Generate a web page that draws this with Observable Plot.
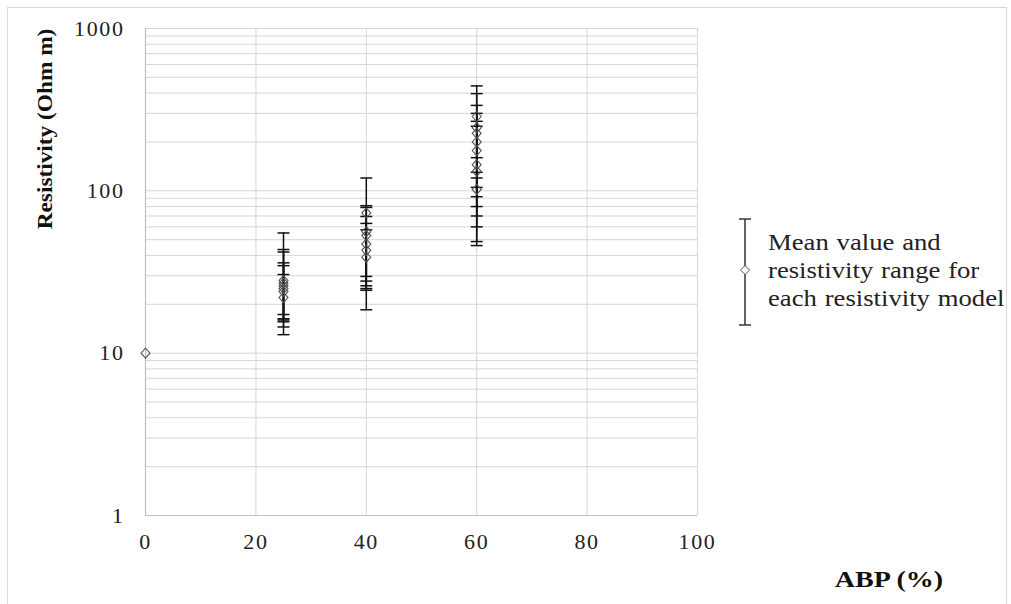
<!DOCTYPE html>
<html>
<head>
<meta charset="utf-8">
<script src="https://cdn.jsdelivr.net/npm/d3@7"></script>
<script src="https://cdn.jsdelivr.net/npm/@observablehq/plot@0.6"></script>
<style>
  html, body { margin: 0; padding: 0; background: #fff; }
  #wrap { position: relative; width: 1011px; height: 604px; overflow: hidden; font-family: "Liberation Serif", "Times New Roman", serif; }
  #border { position: absolute; left: 7px; top: 7px; width: 1000px; height: 610px; border: 1px solid #d9d9d9; box-sizing: border-box; }
  #ytitle { position: absolute; left: 45px; top: 129px; transform: translate(-50%, -50%) rotate(-90deg) scaleX(1.11); font-weight: bold; font-size: 21px; white-space: nowrap; color: #111; }
  #xtitle { position: absolute; left: 889px; top: 580px; transform: translate(-50%, -50%) scaleX(1.22); font-weight: bold; font-size: 23px; white-space: nowrap; color: #111; }
  #legtext { position: absolute; left: 768px; top: 229px; font-size: 23px; line-height: 28px; color: #222; white-space: nowrap; transform: scaleX(1.16); transform-origin: left top; word-spacing: 1px; }
  #legsym { position: absolute; left: 735px; top: 215px; }
  svg text { letter-spacing: 1.6px; }
</style>
</head>
<body>
<div id="wrap">
  <div id="border"></div>
  <div id="chart"></div>
  <div id="ytitle">Resistivity (Ohm m)</div>
  <div id="xtitle">ABP (%)</div>
  <svg id="legsym" width="24" height="115">
    <line x1="10" y1="4" x2="10" y2="110" stroke="#333" stroke-width="1.5"/>
    <line x1="4" y1="4" x2="16" y2="4" stroke="#333" stroke-width="1.5"/>
    <line x1="4" y1="110" x2="16" y2="110" stroke="#333" stroke-width="1.5"/>
    <path d="M10,50.5 L14.5,55 L10,59.5 L5.5,55 Z" fill="#fff" stroke="#555" stroke-width="1"/>
  </svg>
  <div id="legtext">Mean value and<br>resistivity range for<br>each resistivity model</div>
</div>
<script>
// ABP (%) of each resistivity model
const abp = [0,
  25, 25, 25, 25, 25, 25,
  40, 40, 40, 40, 40, 40,
  60, 60, 60, 60, 60, 60, 60, 60];
// mean resistivity (Ohm m)
const meanRes = [10,
  26, 25, 28, 24, 22, 27,
  56, 47, 73, 43, 53, 39,
  287, 245, 226, 200, 177, 145, 132, 102];
// lower end of resistivity range
const lowRes = [null,
  13, 15.6, 16.3, 17.3, 14.5, 16,
  18.5, 24.4, 26, 27.8, 29.7, 25,
  92, 80, 48.7, 46, 120, 70, 105, 60];
// upper end of resistivity range
const highRes = [null,
  55, 43.5, 42, 36, 34.6, 30.5,
  120, 81, 79, 69.5, 63, 57.5,
  336, 443, 397, 300, 268, 250, 160, 130];

const xTicks = [0, 20, 40, 60, 80, 100];
const yTicks = [1, 10, 100, 1000];
const yGrid = [];
for (const dec of [1, 10, 100]) for (let k = 1; k <= 9; k++) yGrid.push(k * dec);
yGrid.push(1000);

const data = abp.map((a, i) => ({abp: a, mean: meanRes[i], low: lowRes[i], high: highRes[i]}));
const ranged = data.filter(d => d.low != null);

const capSymbol = {
  draw(context, size) {
    context.moveTo(-6, 0);
    context.lineTo(6, 0);
  }
};
const diamondSymbol = {
  draw(context, size) {
    context.moveTo(0, -5);
    context.lineTo(4.5, 0);
    context.lineTo(0, 5);
    context.lineTo(-4.5, 0);
    context.closePath();
  }
};

const chart = Plot.plot({
  width: 1011,
  height: 604,
  marginLeft: 145,
  marginRight: 314,
  marginTop: 28,
  marginBottom: 89,
  style: {fontFamily: "Liberation Serif, Times New Roman, serif", fontSize: "22px", color: "#222", background: "transparent"},
  x: {domain: [0, 100], label: null},
  y: {type: "log", domain: [1, 1000], label: null},
  marks: [
    Plot.gridY(yGrid, {stroke: "#d6d6d6", strokeOpacity: 1, strokeWidth: 1}),
    Plot.gridX([20, 40, 60, 80, 100], {stroke: "#d6d6d6", strokeOpacity: 1, strokeWidth: 1}),
    Plot.ruleX([0], {stroke: "#bfbfbf", strokeWidth: 1.2}),
    Plot.ruleY([1], {stroke: "#bfbfbf", strokeWidth: 1.2}),
    Plot.axisY({ticks: yTicks, tickSize: 0, tickPadding: 21, tickFormat: d => String(d)}),
    Plot.axisX({ticks: xTicks, tickSize: 0, tickPadding: 18, tickFormat: d => String(d)}),
    Plot.ruleX(ranged, {x: "abp", y1: "low", y2: "high", stroke: "#111", strokeWidth: 1.5}),
    Plot.dot(ranged, {x: "abp", y: "low", symbol: capSymbol, r: 6, stroke: "#111", strokeWidth: 1.5, fill: "none"}),
    Plot.dot(ranged, {x: "abp", y: "high", symbol: capSymbol, r: 6, stroke: "#111", strokeWidth: 1.5, fill: "none"}),
    Plot.dot(data, {x: "abp", y: "mean", symbol: diamondSymbol, r: 4, stroke: "#555", strokeWidth: 1.1, fill: "none"})
  ]
});
document.getElementById("chart").appendChild(chart);
</script>
</body>
</html>
